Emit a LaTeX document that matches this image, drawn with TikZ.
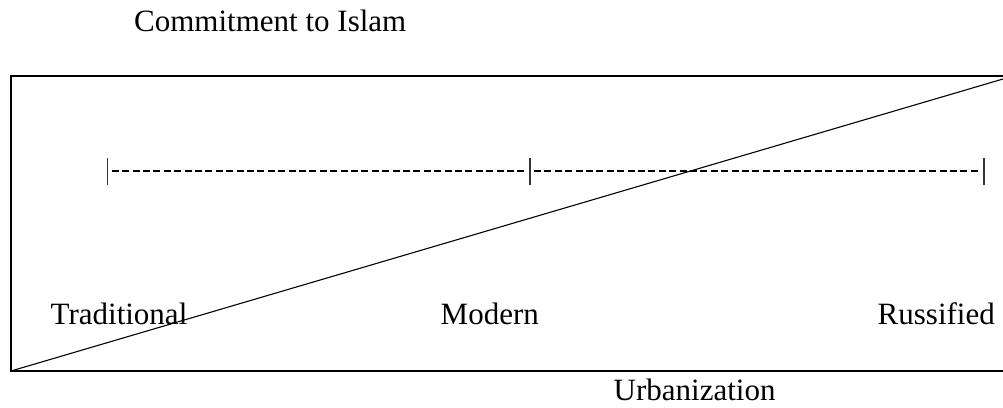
\documentclass[tikz,border=0pt]{standalone}
\usepackage{fontspec}
\setmainfont{Liberation Serif}
\begin{document}
\begin{tikzpicture}[x=1pt,y=-1pt,
  lbl/.style={anchor=base west,inner sep=0pt,font=\fontsize{31}{36}\selectfont},
  frame/.style={line width=2pt,black},
  diag/.style={line width=1.1pt,black},
  scalebar/.style={line width=1.5pt,black!80},
  scaledash/.style={line width=1.8pt,black,dash pattern=on 7pt off 3.4pt}]
\useasboundingbox (0,0) rectangle (1003,407);
% frame (right side runs off the picture)
\coordinate (tr) at (1003,75.5);
\coordinate (tl) at (11,75.5);
\coordinate (bl) at (11,371);
\coordinate (br) at (1003,371);
\draw[frame] (tr) -- (tl) -- (bl) -- (br);
% diagonal
\coordinate (dend) at (1003,79);
\draw[diag] (bl) -- (dend);
% scale line
\coordinate (s1) at (107.7,171);
\coordinate (s2) at (530,171);
\coordinate (s3) at (984,171);
\draw[scaledash] ([xshift=4pt]s1) -- ([xshift=-3pt]s2);
\draw[scaledash] ([xshift=4pt]s2) -- ([xshift=-3pt]s3);
\foreach \c in {s1,s2,s3}{
  \draw[scalebar] ([yshift=-13.5pt]\c) -- ([yshift=13.5pt]\c);
}
% labels
\node[lbl] (commit) at (134,31.7) {Commitment to Islam};
\node[lbl] (trad) at (50.5,324) {Traditional};
\node[lbl] (modern) at (440.5,324) {Modern};
\node[lbl] (russ) at (877.5,324) {Russified};
\node[lbl] (urban) at (613.5,400.7) {Urbanization};
\end{tikzpicture}
\end{document}
